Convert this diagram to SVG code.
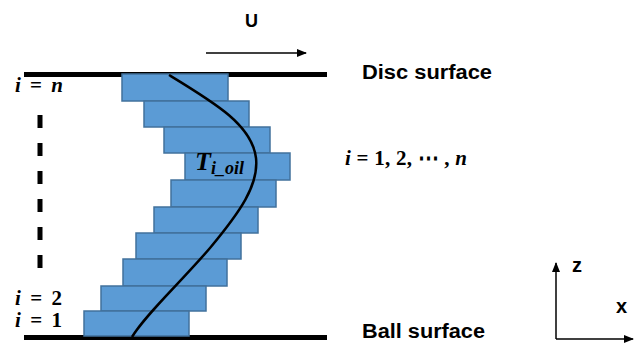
<svg xmlns="http://www.w3.org/2000/svg" width="635" height="347" viewBox="0 0 635 347">
<style>
.blk{fill:#5B9BD5;stroke:#41719C;stroke-width:1.5}
.lbl{font-family:"Liberation Sans",Arial,sans-serif;font-weight:bold;fill:#000}
.math{font-family:"Liberation Serif","DejaVu Serif",serif;font-weight:bold;fill:#000}
.it{font-style:italic}
</style>
<defs>
<marker id="ah" markerWidth="10" markerHeight="8" refX="9" refY="4" orient="auto" markerUnits="userSpaceOnUse">
<path d="M0,0 L10,4 L0,8 Z" fill="#000"/>
</marker>
</defs>
<rect width="635" height="347" fill="#fff"/>
<g id="surfaces">
<line x1="24" y1="74.5" x2="327" y2="74.5" stroke="#000" stroke-width="5"/>
<line x1="24" y1="337.5" x2="327" y2="337.5" stroke="#000" stroke-width="5"/>
</g>
<g id="layers">
<rect class="blk" x="122" y="74" width="106" height="27"/>
<rect class="blk" x="144" y="101" width="105" height="26"/>
<rect class="blk" x="164" y="127" width="106" height="26"/>
<rect class="blk" x="185" y="153" width="105" height="27"/>
<rect class="blk" x="171" y="180" width="105" height="27"/>
<rect class="blk" x="154" y="207" width="104" height="26"/>
<rect class="blk" x="136" y="233" width="105" height="26"/>
<rect class="blk" x="123" y="259" width="104" height="27"/>
<rect class="blk" x="101" y="286" width="105" height="25"/>
<rect class="blk" x="84" y="311" width="105" height="25"/>
</g>
<g id="connectors">
<path d="M169,75 C215,103 252,125 256,158 C259,185 240,212 210,248 C180,283 145,315 132,337" fill="none" stroke="#000" stroke-width="2.5"/>
<line x1="206" y1="53" x2="306" y2="53" stroke="#000" stroke-width="1.5" marker-end="url(#ah)"/>
<line x1="40" y1="115" x2="40" y2="277" stroke="#000" stroke-width="5" stroke-dasharray="13 15"/>
<line x1="556" y1="339" x2="556" y2="263" stroke="#000" stroke-width="1.5" marker-end="url(#ah)"/>
<line x1="556" y1="339" x2="633" y2="339" stroke="#000" stroke-width="1.5" marker-end="url(#ah)"/>
</g>
<g id="labels">
<text class="lbl" x="245" y="27" font-size="18">U</text>
<text class="lbl" x="362" y="79" font-size="19.5" textLength="130" lengthAdjust="spacingAndGlyphs">Disc surface</text>
<text class="lbl" x="362" y="338" font-size="19.5" textLength="123" lengthAdjust="spacingAndGlyphs">Ball surface</text>
<text class="lbl" x="572" y="272" font-size="20">z</text>
<text class="lbl" x="616" y="313" font-size="20">x</text>
<text class="math" x="195" y="170" font-size="26"><tspan class="it">T</tspan><tspan class="it" font-size="18" dy="4">i_oil</tspan></text>
<text class="math" x="15" y="92" font-size="21" textLength="48" lengthAdjust="spacing"><tspan class="it">i</tspan> = <tspan class="it">n</tspan></text>
<text class="math" x="15" y="305" font-size="21" textLength="47" lengthAdjust="spacing"><tspan class="it">i</tspan> = 2</text>
<text class="math" x="15" y="327" font-size="21" textLength="47" lengthAdjust="spacing"><tspan class="it">i</tspan> = 1</text>
<text class="math" x="345" y="165" font-size="21" textLength="122" lengthAdjust="spacing"><tspan class="it">i</tspan> = 1, 2, ⋯ , <tspan class="it">n</tspan></text>
</g>
</svg>
